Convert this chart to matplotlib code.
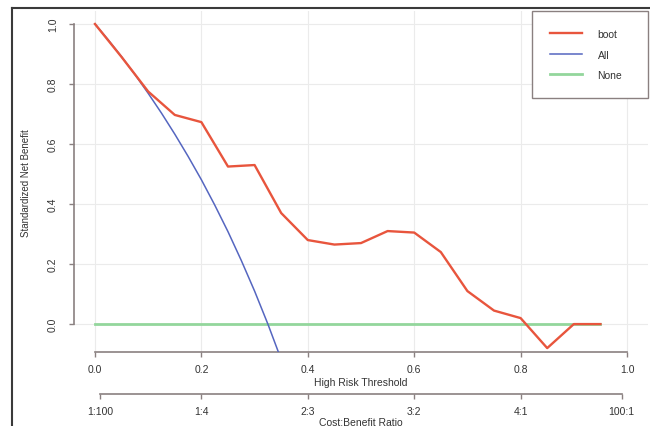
import matplotlib
matplotlib.use("Agg")
import matplotlib.pyplot as plt
from matplotlib.lines import Line2D

# Datos
umbral = [0.0, 0.05, 0.10, 0.15, 0.20, 0.25, 0.30, 0.35, 0.40, 0.45,
          0.50, 0.55, 0.60, 0.65, 0.70, 0.75, 0.80, 0.85, 0.90, 0.95]
boot = [1.0, 0.89, 0.775, 0.697, 0.673, 0.525, 0.53, 0.37, 0.28, 0.265,
        0.27, 0.31, 0.305, 0.24, 0.11, 0.045, 0.02, -0.08, 0.0, 0.0]

umbral_all = [0.0, 0.025, 0.05, 0.075, 0.10, 0.125, 0.15, 0.175, 0.20,
              0.225, 0.25, 0.275, 0.30, 0.325, 0.35]
todos = [1.0, 0.947, 0.891, 0.832, 0.769, 0.703, 0.633, 0.559, 0.481,
         0.397, 0.308, 0.212, 0.110, 0.0, -0.118]

umbral_none = [0.0, 0.95]
ninguno = [0.0, 0.0]

xticks = [0.0, 0.2, 0.4, 0.6, 0.8, 1.0]
yticks = [0.0, 0.2, 0.4, 0.6, 0.8, 1.0]
cb_pos = [0.0099, 0.2, 0.4, 0.6, 0.8, 0.990]
cb_labels = ["1:100", "1:4", "2:3", "3:2", "4:1", "100:1"]

W, H = 650, 427
fig = plt.figure(figsize=(6.5, 4.27), dpi=100)
plt.rcParams['font.family'] = ['Liberation Sans', 'DejaVu Sans']

ejes = "#8a8080"
texto = "#333333"

# Eje principal (pixeles -> fraccion)
left, right, top, bottom = 73.7, 648.3, 12.4, 353.0
ax = fig.add_axes([left / W, 1 - bottom / H, (right - left) / W, (bottom - top) / H])
ax.set_xlim(-0.04, 1.04)
ax.set_ylim(-0.093, 1.042)

ax.grid(True, color="#ebebeb", linewidth=0.8)
ax.set_axisbelow(True)

ax.plot(umbral_none, ninguno, color="#93d69c", linewidth=2.0, label="None", zorder=3)
ax.plot(umbral_all, todos, color="#5566c0", linewidth=1.1, label="All", zorder=4)
ax.plot(umbral, boot, color="#e8553d", linewidth=1.7, label="boot", zorder=5)

for s in ["top", "right"]:
    ax.spines[s].set_visible(False)
for s in ["left", "bottom"]:
    ax.spines[s].set_color(ejes)
    ax.spines[s].set_linewidth(1.2)
ax.spines["left"].set_bounds(0, 1)
ax.spines["bottom"].set_bounds(0, 1)

ax.set_xticks(xticks)
ax.set_xticklabels([f"{v:.1f}" for v in xticks])
ax.set_yticks(yticks)
ax.set_yticklabels([f"{v:.1f}" for v in yticks], rotation=90, va="center")
ax.tick_params(axis="both", colors=ejes, labelcolor=texto, labelsize=7.5,
               length=3.5, width=1.0)
ax.tick_params(axis="x", pad=5)
ax.tick_params(axis="y", pad=8)

ax.set_xlabel("High Risk Threshold", fontsize=7.5, color=texto, labelpad=2)
ax.set_ylabel("Standardized Net Benefit", fontsize=7, color=texto, labelpad=12)

handles, labels = ax.get_legend_handles_labels()
orden = [2, 1, 0]
x0_leg = (532 - left) / (right - left)
leg = ax.legend([handles[i] for i in orden], [labels[i] for i in orden],
                loc="upper right", bbox_to_anchor=(x0_leg, 0.0, 1.0 - x0_leg, 1.0),
                mode="expand", borderaxespad=0,
                fontsize=7.5, fancybox=False, handlelength=3.1,
                handletextpad=1.5, borderpad=1.7, labelspacing=1.0,
                framealpha=1)
leg.get_frame().set_edgecolor(ejes)
leg.get_frame().set_linewidth(1.0)
for t in leg.get_texts():
    t.set_color(texto)

# Segundo eje: Cost:Benefit Ratio
y2 = 394.5
ax2 = fig.add_axes([left / W, 1 - y2 / H, (right - left) / W, 0.001])
ax2.set_xlim(-0.04, 1.04)
ax2.patch.set_visible(False)
for s in ["top", "right", "left"]:
    ax2.spines[s].set_visible(False)
ax2.spines["bottom"].set_color(ejes)
ax2.spines["bottom"].set_linewidth(1.2)
ax2.spines["bottom"].set_bounds(cb_pos[0], cb_pos[-1])
ax2.set_yticks([])
ax2.set_xticks(cb_pos)
ax2.set_xticklabels(cb_labels)
ax2.tick_params(axis="x", colors=ejes, labelcolor=texto, labelsize=7.5,
                length=3.5, width=1.0, pad=5.5)
ax2.set_xlabel("Cost:Benefit Ratio", fontsize=7.5, color=texto, labelpad=0.5)

# Borde de la figura (izquierda y arriba)
fig.add_artist(Line2D([12 / W, 12 / W], [0, 1 - 9 / H], transform=fig.transFigure,
                      color="#3a3a3a", linewidth=1.5))
fig.add_artist(Line2D([12 / W, 1], [1 - 9 / H, 1 - 9 / H], transform=fig.transFigure,
                      color="#3a3a3a", linewidth=1.5))

fig.savefig("out.png", dpi=100)
